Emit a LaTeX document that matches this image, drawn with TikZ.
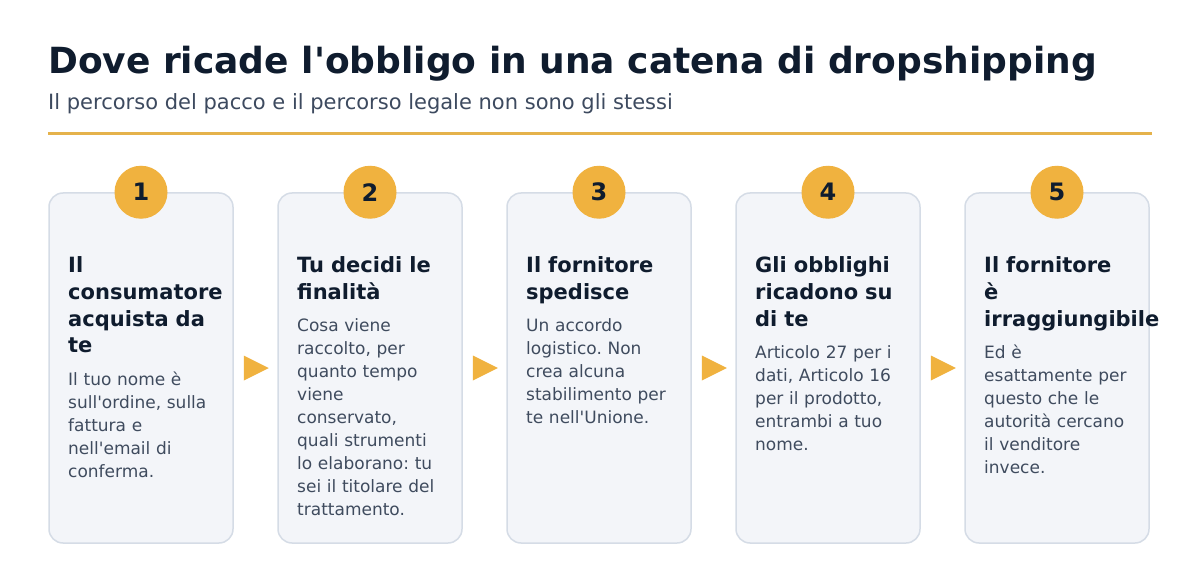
\documentclass[tikz,border=0pt]{standalone}
\usepackage{fontspec}
\setmainfont{DejaVu Sans}
\usetikzlibrary{calc}
\definecolor{titlecol}{HTML}{0F1C2E}
\definecolor{subcol}{HTML}{3D4A5F}
\definecolor{bodycol}{HTML}{3F4B5E}
\definecolor{cardfill}{HTML}{F3F5F9}
\definecolor{cardedge}{HTML}{D5DCE6}
\definecolor{accent}{HTML}{F0B23F}
\definecolor{rulecol}{HTML}{E5B24B}
\newcommand{\apo}{\textquotesingle}
\frenchspacing
\tikzset{
  card/.style={draw=cardedge, fill=cardfill, line width=1.5pt, rounded corners=14pt,
    minimum width=184pt, minimum height=350pt, inner sep=0pt},
  badge/.style={circle, fill=accent, minimum size=53pt, inner sep=0pt,
    font=\fontsize{24}{28}\selectfont\bfseries, text=titlecol},
  head/.style={anchor=base west, inner sep=0pt, text width=220pt, align=left,
    font=\fontsize{21}{27}\selectfont\bfseries\frenchspacing, text=titlecol},
  body/.style={anchor=base west, inner sep=0pt, text width=220pt, align=left,
    font=\fontsize{17}{23}\selectfont\frenchspacing, text=bodycol},
  tri/.style={fill=accent}
}
\begin{document}
\begin{tikzpicture}[x=1pt,y=-1pt]
\path[use as bounding box, fill=white] (0,0) rectangle (1200,583);
\node[anchor=base west, inner sep=0pt, font=\fontsize{36}{43}\selectfont\bfseries, text=titlecol] (title) at (48,74)
  {Dove ricade l\apo obbligo in una catena di dropshipping};
\node[anchor=base west, inner sep=0pt, font=\fontsize{21}{26}\selectfont, text=subcol] (subtitle) at (48,110)
  {Il percorso del pacco e il percorso legale non sono gli stessi};
\draw[rulecol, line width=3pt] (48,134) -- (1152,134);

\foreach \i/\x in {1/141,2/370,3/599,4/828,5/1057}{
  \node[card] (c\i) at (\x,368) {};
}
\foreach \i in {1,...,5}{
  \node[badge] (b\i) at (c\i.north) {\i};
}
\foreach \a/\b in {1/2,2/3,3/4,4/5}{
  \fill[tri] ($(c\a.east)+(10,-12.5)$) -- ($(c\a.east)+(35,0)$) -- ($(c\a.east)+(10,12.5)$) -- cycle;
}

\node[head] (h1) at (68,272) {Il\\consumatore\\acquista da\\te};
\node[body] (t1) at (68,385) {Il tuo nome è\\sull\apo ordine, sulla\\fattura e\\nell\apo email di\\conferma.};

\node[head] (h2) at (297,272) {Tu decidi le\\finalità};
\node[body] (t2) at (297,331) {Cosa viene\\raccolto, per\\quanto tempo\\viene\\conservato,\\quali strumenti\\lo elaborano: tu\\sei il titolare del\\trattamento.};

\node[head] (h3) at (526,272) {Il fornitore\\spedisce};
\node[body] (t3) at (526,331) {Un accordo\\logistico. Non\\crea alcuna\\stabilimento per\\te nell\apo Unione.};

\node[head] (h4) at (755,272) {Gli obblighi\\ricadono su\\di te};
\node[body] (t4) at (755,358) {Articolo 27 per i\\dati, Articolo 16\\per il prodotto,\\entrambi a tuo\\nome.};

\node[head] (h5) at (984,272) {Il fornitore\\è\\irraggiungibile};
\node[body] (t5) at (984,358) {Ed è\\esattamente per\\questo che le\\autorità cercano\\il venditore\\invece.};
\end{tikzpicture}
\end{document}
